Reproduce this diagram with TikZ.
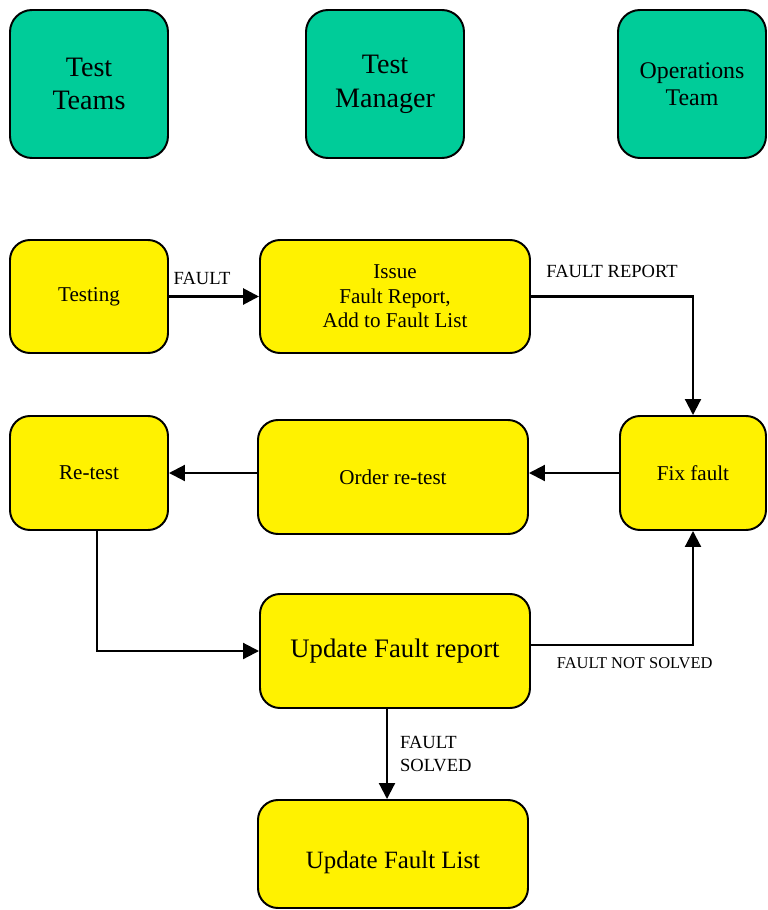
\documentclass[tikz,border=0pt]{standalone}
\usepackage{fontspec}
\setmainfont{Liberation Serif}
\usetikzlibrary{arrows.meta}
\definecolor{rolegreen}{RGB}{0,204,153}
\tikzset{
  role/.style={draw,line width=1.4pt,rounded corners=0.55cm,fill=rolegreen,minimum width=3.95cm,minimum height=3.7cm,align=center,font=\fontsize{20}{24}\selectfont},
  stepbox/.style={draw,line width=1.4pt,rounded corners=0.5cm,fill=yellow,minimum width=6.75cm,minimum height=2.85cm,align=center,inner sep=0pt,font=\fontsize{15}{17.5}\selectfont},
  lbl/.style={font=\fontsize{13.2}{16.5}\selectfont,inner sep=0pt,align=left},
}
\begin{document}
\begin{tikzpicture}[>={Triangle[length=0.4cm,width=0.4cm]},line width=1.5pt]
    \useasboundingbox (0,0) rectangle (19.2,-22.75);
    % who does the work
    \node[role] (teams) at (2.225,-2.1) {Test\\Teams};
    \node[role] (manager) at (9.625,-2.1) {Test\\Manager};
    \node[role,minimum width=3.7cm,font=\fontsize{17}{19}\selectfont] (ops) at (17.3,-2.1) {Operations\\Team};
    % the steps
    \node[stepbox,minimum width=3.95cm,minimum height=2.825cm] (testing) at (2.225,-7.4125) {Testing};
    \node[stepbox,minimum height=2.825cm] (issue) at (9.875,-7.4125) {Issue\\Fault Report,\\Add to Fault List};
    \node[stepbox,minimum width=3.95cm] (retest) at (2.225,-11.825) {Re-test};
    \node[stepbox] (order) at (9.825,-11.925) {Order re-test};
    \node[stepbox,minimum width=3.65cm] (fix) at (17.325,-11.825) {Fix fault};
    \node[stepbox,font=\fontsize{19}{22}\selectfont] (ufr) at (9.875,-16.275) {Update Fault report};
    \node[stepbox,minimum height=2.7cm,font=\fontsize{17.7}{21}\selectfont,text height=24pt] (ufl) at (9.825,-21.35) {Update Fault List};
    % the flow
    \draw[->,line width=2pt] (testing.east) -- (issue.west);
    \node[lbl] (fault) at (5.05,-6.95) {FAULT};
    \draw[->] (issue.east) -| node[lbl,pos=0.25,above=0.45cm] (report) {FAULT REPORT} (fix.north);
    \draw[->] (fix.west) -- (fix.west -| order.east);
    \draw[->] (retest.east -| order.west) -- (retest.east);
    \draw[->] ([xshift=0.2cm]retest.south) |- (ufr.west);
    \draw[->] ([yshift=0.15cm]ufr.east) -| node[lbl,pos=0.32,below=0.3cm,font=\fontsize{11.7}{14}\selectfont] (notsolved) {FAULT NOT SOLVED} (fix.south);
    \draw[->] ([xshift=-0.2cm]ufr.south) -- node[lbl,right=0.3cm] (solved) {FAULT\\SOLVED} ([xshift=-0.2cm]ufr.south |- ufl.north);
\end{tikzpicture}
\end{document}
